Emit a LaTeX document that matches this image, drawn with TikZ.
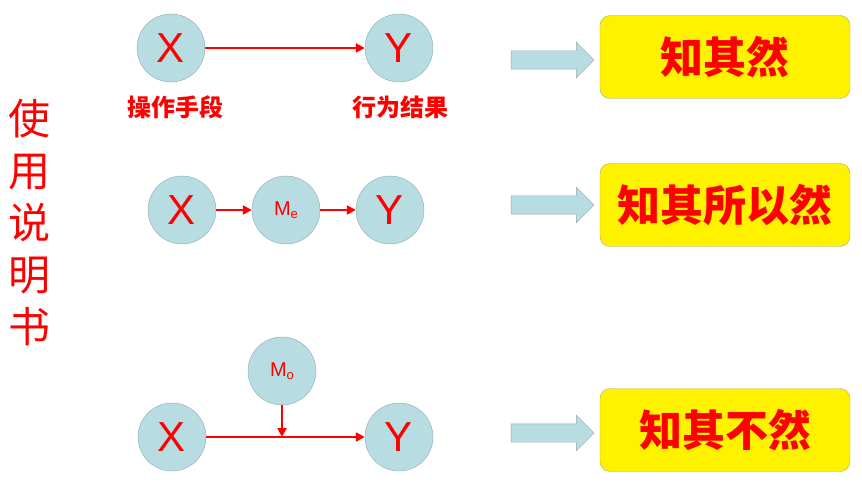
\documentclass[tikz,border=0pt]{standalone}
\usepackage{fontspec}
\setmainfont{Liberation Sans}
\newfontfamily\cjk{Noto Sans CJK SC}
\usetikzlibrary{arrows.meta}
\usetikzlibrary{shapes.arrows}
\usetikzlibrary{positioning}
\definecolor{nodeblue}{HTML}{B7DDE3}
\definecolor{nodeedge}{HTML}{8FA9AD}
\definecolor{boxedge}{HTML}{A8A878}
\tikzset{var/.style = {circle, fill=nodeblue, draw=nodeedge, thin, minimum size=68pt,
                       inner sep=0, text=red, font=\fontsize{42}{42}\selectfont}}
\tikzset{med/.style = {var, font=\fontsize{20}{20}\selectfont}}
\tikzset{link/.style = {red, line width=2.5pt, -{Triangle[length=9pt, width=9pt]}}}
\tikzset{fat/.style = {single arrow, fill=nodeblue, draw=nodeedge, minimum height=83pt,
                       minimum width=35pt, single arrow head extend=8.5pt,
                       inner xsep=0, inner ysep=9pt, single arrow tip angle=90}}
\tikzset{verdict/.style = {rounded corners=10pt, fill=yellow, draw=boxedge,
                           minimum width=250pt, minimum height=83pt, text=red,
                           font=\cjk\bfseries\fontsize{43}{43}\selectfont}}
\tikzset{tag/.style = {text=red, font=\cjk\bfseries\fontsize{24}{24}\selectfont}}
\newcommand{\sub}[1]{\raisebox{-0.3ex}{\fontsize{13}{13}\selectfont #1}}
\begin{document}
\begin{tikzpicture}[x=1pt, y=-1pt]
      \useasboundingbox (0, 0) rectangle (862, 486);

      \node [text=red, align=center, font=\cjk\fontsize{42}{52}\selectfont]
            (title) at (30, 222) {使\\用\\说\\明\\书};

      \node [var] (x1) at (171, 48) {X};
      \node [var] (y1) at (399, 48) {Y};
      \node [tag] (means) at (175, 107) {操作手段};
      \node [tag] (result) at (400, 107) {行为结果};
      \draw [link] (x1) -- (y1);

      \node [var] (x2) at (182, 210) {X};
      \node [med] (me) at (286, 210) {M\sub{e}};
      \node [var] (y2) at (390, 210) {Y};
      \draw [link] (x2) -- (me);
      \draw [link] (me) -- (y2);

      \node [med] (mo) at (282, 371) {M\sub{o}};
      \node [var] (x3) at (172, 437) {X};
      \node [var] (y3) at (399, 437) {Y};
      \coordinate (hit) at (mo |- x3);
      \draw [link] (x3) -- (y3);
      \draw [link] (mo) -- (hit);

      \node [fat] (a1) at (548, 60) {};
      \node [fat] (a2) at (548, 205) {};
      \node [fat] (a3) at (548, 433) {};

      \node [verdict] (b1) at (725, 57) {知其然};
      \node [verdict] (b2) at (725, 205) {知其所以然};
      \node [verdict] (b3) at (725, 430) {知其不然};
    \end{tikzpicture}
\end{document}
